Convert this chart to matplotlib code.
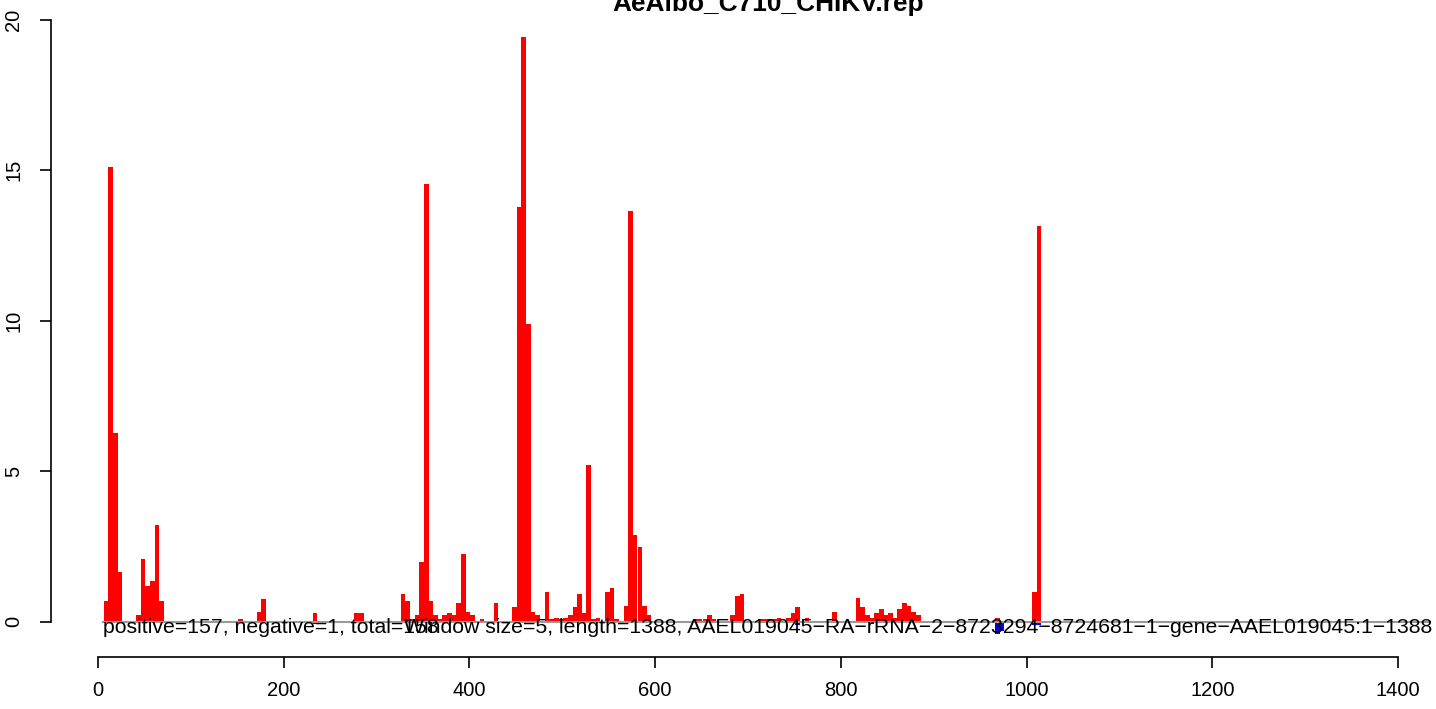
import matplotlib
matplotlib.use("Agg")
import matplotlib.pyplot as plt

plt.rcParams['font.family'] = ['Liberation Sans', 'DejaVu Sans']

# ---- data (window index k -> window start = 5*k + 1) ----
window_size = 5
pos_index = [1, 2, 3, 4, 8, 9, 10, 11, 12, 13, 30, 34, 35, 46, 55, 56,
             65, 66, 67, 68, 69, 70, 71, 72, 73, 74, 75, 76, 77, 78, 79, 80,
             82, 85, 89, 90, 91, 92, 93, 94, 96, 97, 98, 99, 100, 101, 102,
             103, 104, 105, 106, 107, 109, 110, 111, 113, 114, 115, 116, 117,
             118, 128, 129, 130, 131, 132, 136, 137, 138, 142, 143, 144, 145,
             146, 148, 149, 150, 152, 158, 163, 164, 165, 166, 167, 168, 169,
             170, 171, 172, 173, 174, 175, 176, 193, 201, 202]
pos_value = [0.67, 15.1, 6.26, 1.66, 0.2, 2.06, 1.17, 1.36, 3.19, 0.67, 0.07,
             0.33, 0.76, 0.28, 0.28, 0.28,
             0.9, 0.67, 0.07, 0.2, 1.99, 14.52, 0.67, 0.2, 0.07, 0.2, 0.27,
             0.2, 0.6, 2.23, 0.33, 0.2,
             0.07, 0.6, 0.47, 13.77, 19.42, 9.9, 0.33, 0.2, 0.97, 0.07, 0.13,
             0.07, 0.13, 0.2, 0.47,
             0.9, 0.27, 5.2, 0.07, 0.13, 0.97, 1.1, 0.07, 0.53, 13.65, 2.89,
             2.49, 0.53,
             0.2, 0.07, 0.07, 0.07, 0.2, 0.07, 0.2, 0.84, 0.91, 0.07, 0.07,
             0.07, 0.07,
             0.13, 0.13, 0.27, 0.47, 0.13, 0.33, 0.78, 0.47, 0.2, 0.13, 0.27,
             0.4, 0.2,
             0.27, 0.13, 0.4, 0.6, 0.53, 0.33, 0.2, 0.1, 0.97, 13.15]
neg_index = [46, 150, 166, 193, 194, 201, 202, 273]
neg_value = [-0.07, -0.13, -0.08, -0.4, -0.3, -0.13, -0.13, -0.04]

x_ticks = [0, 200, 400, 600, 800, 1000, 1200, 1400]
y_ticks = [0, 5, 10, 15, 20]

title = "AeAlbo_C710_CHIKV.rep"
left_note = "positive=157, negative=1, total=158"
right_note = ("Window size=5, length=1388, AAEL019045\u2212RA\u2212rRNA\u22122\u2212"
              "8723294\u22128724681\u22121\u2212gene\u2212AAEL019045:1\u22121388")

pos_start = [window_size * k + 1 for k in pos_index]
neg_start = [window_size * k + 1 for k in neg_index]

# ---- figure ----
W, H = 1436, 709
fig = plt.figure(figsize=(W / 100, H / 100), dpi=100)

px_per_x = 1300 / 1400.0
x0_px = 98.0
px_per_y = 30.1
y0_px = 621.5

ax_left, ax_right, ax_top, ax_bot = 46, 1436, 10, 700
ax = fig.add_axes([ax_left / W, (H - ax_bot) / H,
                   (ax_right - ax_left) / W, (ax_bot - ax_top) / H])
ax.set_xlim((ax_left - x0_px) / px_per_x, (ax_right - x0_px) / px_per_x)
ax.set_ylim(-(ax_bot - y0_px) / px_per_y, (y0_px - ax_top) / px_per_y)

ax.bar(pos_start, pos_value, width=window_size, align='edge',
       color='#FF0000', linewidth=0, zorder=2)
ax.bar(neg_start, neg_value, width=window_size, align='edge',
       color='#0000FF', linewidth=0, zorder=2)
ax.plot([5.5, 1434], [0, 0], color='#9a9a9a', lw=1.5, zorder=3)

ax.text(5.5, -(633 - y0_px) / px_per_y, left_note, ha='left', va='baseline',
        fontsize=15.3, zorder=4)
ax.text((1432 - x0_px) / px_per_x, -(633 - y0_px) / px_per_y, right_note,
        ha='right', va='baseline', fontsize=15.3, zorder=4)

for s in ['top', 'right']:
    ax.spines[s].set_visible(False)
ax.spines['bottom'].set_position(('data', -(657 - y0_px) / px_per_y))
ax.spines['bottom'].set_bounds(0, 1400)
ax.spines['left'].set_position(('data', (51 - x0_px) / px_per_x))
ax.spines['left'].set_bounds(0, 20)
for s in ['bottom', 'left']:
    ax.spines[s].set_linewidth(1.2)

ax.set_xticks(x_ticks)
ax.set_xticklabels([str(v) for v in x_ticks])
ax.set_yticks(y_ticks)
ax.set_yticklabels([str(v) for v in y_ticks], rotation=90, va='center')
ax.tick_params(axis='both', direction='out', length=8, width=1.2,
               labelsize=14.5)
ax.tick_params(axis='x', pad=9)
ax.tick_params(axis='y', pad=12)
ax.patch.set_visible(False)

fig.text(768.5 / W, 1 - 11 / H, title, ha='center', va='baseline',
         fontsize=18.9, fontweight='bold')

fig.savefig("out.png", dpi=100, facecolor='white')
